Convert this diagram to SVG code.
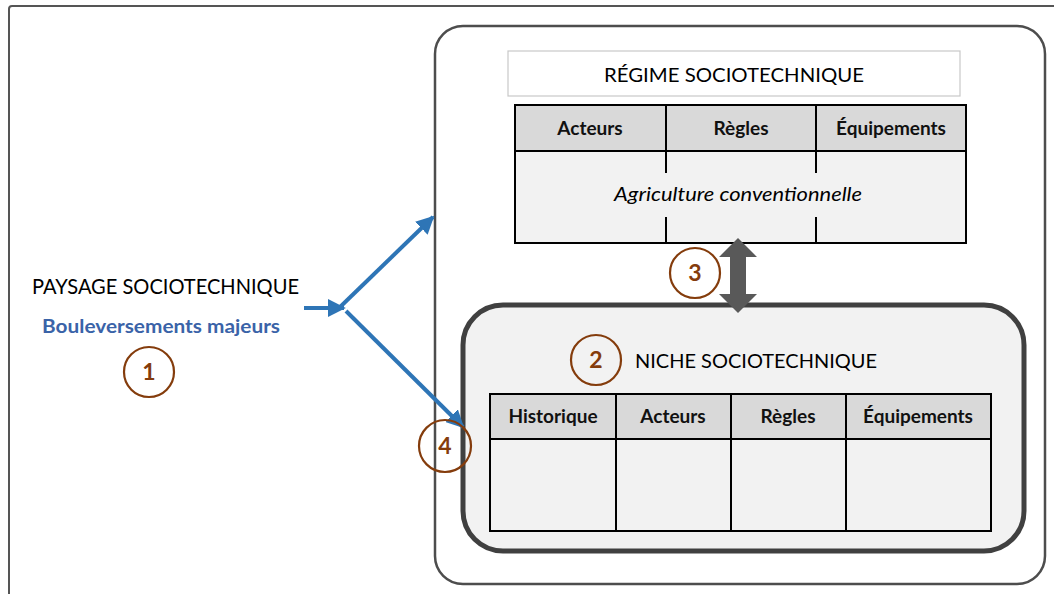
<svg xmlns="http://www.w3.org/2000/svg" width="1054" height="594" viewBox="0 0 1054 594">
<defs>
<style>
.t{font-family:Lato,"Liberation Sans",sans-serif;fill:#000}
.big{font-size:21px}
.hd{font-size:19px;font-weight:bold;text-anchor:middle;fill:#111}
.num{font-family:Lato,"Liberation Sans",sans-serif;font-size:23px;font-weight:bold;fill:#843c0c;text-anchor:middle}
.circ{fill:none;stroke:#843c0c;stroke-width:2.2}
.grid{fill:none;stroke:#000;stroke-width:2}
.blue{stroke:#2e75b6;stroke-width:4;fill:none}
</style>
<marker id="ah" viewBox="0 0 10 10" refX="9" refY="5" markerWidth="4.5" markerHeight="4.5" markerUnits="strokeWidth" orient="auto">
<path d="M0,0 L10,5 L0,10 Z" fill="#2e75b6"/>
</marker>
</defs>
<rect width="1054" height="594" fill="#fff"/>
<!-- outer frame -->
<path d="M9,594 L9,9 Q9,6 12,6 L1054,6" fill="none" stroke="#555" stroke-width="2"/>

<g id="container">
<rect x="435" y="26" width="610" height="558" rx="28" fill="#fff" stroke="#4d4d4d" stroke-width="2.5"/>
</g>

<g id="paysage">
<text class="t big" x="32" y="294" textLength="267" lengthAdjust="spacingAndGlyphs">PAYSAGE SOCIOTECHNIQUE</text>
<text x="42" y="333" font-family="Lato,'Liberation Sans',sans-serif" font-size="18" font-weight="bold" fill="#3a63a8" textLength="238" lengthAdjust="spacingAndGlyphs">Bouleversements majeurs</text>
</g>
<g id="c1"><circle class="circ" cx="149" cy="372" r="25"/><text class="num" x="149" y="380">1</text></g>

<g id="regime">
<rect x="508" y="51" width="452" height="45" fill="#fff" stroke="#c8c8c8" stroke-width="1.2"/>
<text class="t" font-size="20" x="604" y="82" textLength="260" lengthAdjust="spacingAndGlyphs">RÉGIME SOCIOTECHNIQUE</text>
<rect x="515" y="105" width="451" height="46" fill="#d9d9d9"/>
<rect x="515" y="151" width="451" height="92" fill="#f2f2f2"/>
<rect class="grid" x="515" y="105" width="451" height="138"/>
<line class="grid" x1="515" y1="151" x2="966" y2="151"/>
<path class="grid" d="M666,105 V173 M666,217 V243 M816,105 V173 M816,217 V243"/>
<text class="t hd" x="590" y="135">Acteurs</text>
<text class="t hd" x="741" y="135">Règles</text>
<text class="t hd" x="891" y="135">Équipements</text>
<text class="t" font-size="19" font-style="italic" x="614" y="201" textLength="248" lengthAdjust="spacingAndGlyphs">Agriculture conventionnelle</text>
</g>

<g id="niche">
<rect x="463" y="305" width="561" height="246" rx="40" fill="#f2f2f2" stroke="#404040" stroke-width="5"/>
<text class="t" font-size="20" x="635" y="368" textLength="242" lengthAdjust="spacingAndGlyphs">NICHE SOCIOTECHNIQUE</text>
<rect x="490" y="394" width="501" height="45" fill="#d9d9d9"/>
<rect class="grid" x="490" y="394" width="501" height="137"/>
<path class="grid" d="M490,439 H991 M616,394 V531 M731,394 V531 M846,394 V531"/>
<text class="t hd" x="553" y="423">Historique</text>
<text class="t hd" x="673" y="423">Acteurs</text>
<text class="t hd" x="788" y="423">Règles</text>
<text class="t hd" x="918" y="423">Équipements</text>
</g>
<g id="c2"><circle class="circ" cx="596" cy="360" r="25"/><text class="num" x="596" y="368">2</text></g>

<g id="connectors">
<line class="blue" x1="304" y1="308" x2="344" y2="308" marker-end="url(#ah)"/>
<line class="blue" x1="338" y1="309" x2="433" y2="217" marker-end="url(#ah)"/>
<line class="blue" x1="346" y1="311" x2="463" y2="427" marker-end="url(#ah)"/>
<path d="M738,238 L757,257 L746,257 L746,294 L757,294 L738,313 L719,294 L730,294 L730,257 L719,257 Z" fill="#595959"/>
</g>
<g id="c3"><circle class="circ" cx="695" cy="273" r="25"/><text class="num" x="695" y="281">3</text></g>
<g id="c4"><circle class="circ" cx="445" cy="446" r="26"/><text class="num" x="445" y="454">4</text></g>
</svg>
